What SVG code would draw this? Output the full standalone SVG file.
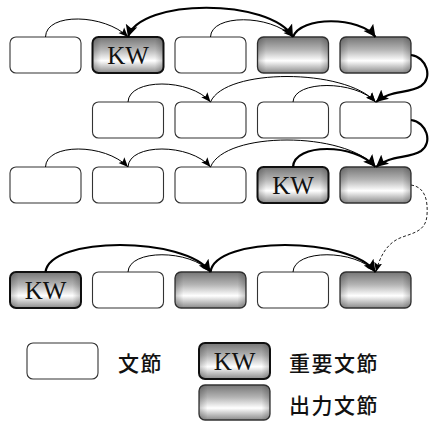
<svg xmlns="http://www.w3.org/2000/svg" width="429" height="421" viewBox="0 0 429 421">
  <defs>
    <!-- metallic shading for keyword / output phrases -->
    <linearGradient id="metal" x1="0" y1="0" x2="0" y2="1">
      <stop offset="0" stop-color="#767676"/>
      <stop offset="0.35" stop-color="#b4b4b4"/>
      <stop offset="0.66" stop-color="#ffffff"/>
      <stop offset="1" stop-color="#8a8a8a"/>
    </linearGradient>
    <linearGradient id="edge" x1="0" y1="0" x2="1" y2="0">
      <stop offset="0" stop-color="#000" stop-opacity="0.22"/>
      <stop offset="0.12" stop-color="#000" stop-opacity="0"/>
      <stop offset="0.88" stop-color="#000" stop-opacity="0"/>
      <stop offset="1" stop-color="#000" stop-opacity="0.22"/>
    </linearGradient>
    <marker id="ahThick" markerUnits="userSpaceOnUse" markerWidth="13" markerHeight="13" viewBox="0 0 13 13" refX="12" refY="6.5" orient="auto-start-reverse">
      <path d="M0,0.5 L12,6.5 L0,12.5 L2.5,6.5 z" fill="#000"/>
    </marker>
    <marker id="ahThin" markerUnits="userSpaceOnUse" markerWidth="10" markerHeight="10" viewBox="0 0 10 10" refX="9.5" refY="5" orient="auto-start-reverse">
      <path d="M0,1 L9.5,5 L0,9 L2,5 z" fill="#000"/>
    </marker>
  </defs>
  <style>
    .plain { fill: #fff; stroke: #333; stroke-width: 1.1; }
    .out { fill: url(#metal); stroke: #333; stroke-width: 1.3; }
    .kw { fill: url(#metal); stroke: #111; stroke-width: 2; }
    .shade { fill: url(#edge); stroke: none; }
    .kwt { font-family: "Liberation Serif", "Times New Roman", serif; font-size: 25px; fill: #111; text-anchor: middle; }
    .lbl { font-family: "Noto Sans CJK JP", "Noto Sans CJK SC", sans-serif; font-size: 21px; font-weight: 500; letter-spacing: 1.5px; fill: #111; dominant-baseline: central; }
    .thin { fill: none; stroke: #000; stroke-width: 1; marker-end: url(#ahThin); }
    .thick { fill: none; stroke: #000; stroke-width: 2.2; marker-end: url(#ahThick); }
    .dash { fill: none; stroke: #222; stroke-width: 1; stroke-dasharray: 3 2; marker-end: url(#ahThin); }
  </style>

  <!-- row 1 -->
  <g id="r1n1"><rect class="plain" x="10" y="37" width="71" height="36" rx="6"/></g>
  <g id="r1n2"><rect class="kw" x="92.5" y="37" width="71" height="36" rx="6"/><rect class="shade" x="92.5" y="37" width="71" height="36" rx="6"/><text class="kwt" x="128" y="64">KW</text></g>
  <g id="r1n3"><rect class="plain" x="175" y="37" width="71" height="36" rx="6"/></g>
  <g id="r1n4"><rect class="out" x="257.5" y="37" width="71" height="36" rx="6"/><rect class="shade" x="257.5" y="37" width="71" height="36" rx="6"/></g>
  <g id="r1n5"><rect class="out" x="340" y="37" width="71" height="36" rx="6"/><rect class="shade" x="340" y="37" width="71" height="36" rx="6"/></g>

  <!-- row 2 -->
  <g id="r2n1"><rect class="plain" x="92.5" y="102" width="71" height="36" rx="6"/></g>
  <g id="r2n2"><rect class="plain" x="175" y="102" width="71" height="36" rx="6"/></g>
  <g id="r2n3"><rect class="plain" x="257.5" y="102" width="71" height="36" rx="6"/></g>
  <g id="r2n4"><rect class="plain" x="340" y="102" width="71" height="36" rx="6"/></g>

  <!-- row 3 -->
  <g id="r3n1"><rect class="plain" x="10" y="167" width="71" height="36" rx="6"/></g>
  <g id="r3n2"><rect class="plain" x="92.5" y="167" width="71" height="36" rx="6"/></g>
  <g id="r3n3"><rect class="plain" x="175" y="167" width="71" height="36" rx="6"/></g>
  <g id="r3n4"><rect class="kw" x="257.5" y="167" width="71" height="36" rx="6"/><rect class="shade" x="257.5" y="167" width="71" height="36" rx="6"/><text class="kwt" x="293" y="194">KW</text></g>
  <g id="r3n5"><rect class="out" x="340" y="167" width="71" height="36" rx="6"/><rect class="shade" x="340" y="167" width="71" height="36" rx="6"/></g>

  <!-- row 4 -->
  <g id="r4n1"><rect class="kw" x="10" y="272" width="71" height="36" rx="6"/><rect class="shade" x="10" y="272" width="71" height="36" rx="6"/><text class="kwt" x="45.5" y="299">KW</text></g>
  <g id="r4n2"><rect class="plain" x="92.5" y="272" width="71" height="36" rx="6"/></g>
  <g id="r4n3"><rect class="out" x="175" y="272" width="71" height="36" rx="6"/><rect class="shade" x="175" y="272" width="71" height="36" rx="6"/></g>
  <g id="r4n4"><rect class="plain" x="257.5" y="272" width="71" height="36" rx="6"/></g>
  <g id="r4n5"><rect class="out" x="340" y="272" width="71" height="36" rx="6"/><rect class="shade" x="340" y="272" width="71" height="36" rx="6"/></g>

  <!-- connectors -->
  <g id="edges">
    <path class="thin" d="M45.5,37 C46,12 105,14 128,37"/>
    <path class="thick" marker-start="url(#ahThick)" d="M128,37 C140,-2 270,-2 293,37"/>
    <path class="thin" d="M210.5,37 C211,14 270,14 293,37"/>
    <path class="thick" d="M293,37 C300,16 360,16 375.5,37"/>
    <path class="thick" d="M411,55 C427,57 433,78 421,86 C408,94 390,90 376,102"/>

    <path class="thin" d="M128,102 C129,78 190,78 210.5,102"/>
    <path class="thin" d="M210.5,102 C225,68 345,68 375.5,102"/>
    <path class="thin" d="M293,102 C294,80 355,80 375.5,102"/>
    <path class="thick" d="M411,120 C427,122 433,143 421,151 C408,159 390,155 376,167"/>

    <path class="thin" d="M45.5,167 C46,143 105,143 128,167"/>
    <path class="thin" d="M128,167 C129,143 190,143 210.5,167"/>
    <path class="thin" d="M210.5,167 C225,131 345,131 375.5,167"/>
    <path class="thick" d="M293,167 C294,143 355,143 375.5,167"/>
    <path class="dash" d="M411,185 C425,187 428,200 427,215 C426,232 412,233 400,238 C388,243 380,255 376,272"/>

    <path class="thick" d="M45.5,272 C50,236 185,236 210.5,272"/>
    <path class="thin" d="M128,272 C129,249 190,249 210.5,272"/>
    <path class="thick" d="M210.5,272 C215,236 350,236 375.5,272"/>
    <path class="thin" d="M293,272 C294,249 355,249 375.5,272"/>
  </g>

  <!-- legend -->
  <g id="legend-plain"><rect class="plain" x="27" y="343" width="71" height="36" rx="6"/><text class="lbl" x="118" y="362">文節</text></g>
  <g id="legend-kw"><rect class="kw" x="199" y="343" width="71" height="36" rx="6"/><rect class="shade" x="199" y="343" width="71" height="36" rx="6"/><text class="kwt" x="234.5" y="370">KW</text><text class="lbl" x="289" y="362">重要文節</text></g>
  <g id="legend-out"><rect class="out" x="199" y="385" width="71" height="35" rx="6"/><rect class="shade" x="199" y="385" width="71" height="35" rx="6"/><text class="lbl" x="289" y="404">出力文節</text></g>
</svg>
